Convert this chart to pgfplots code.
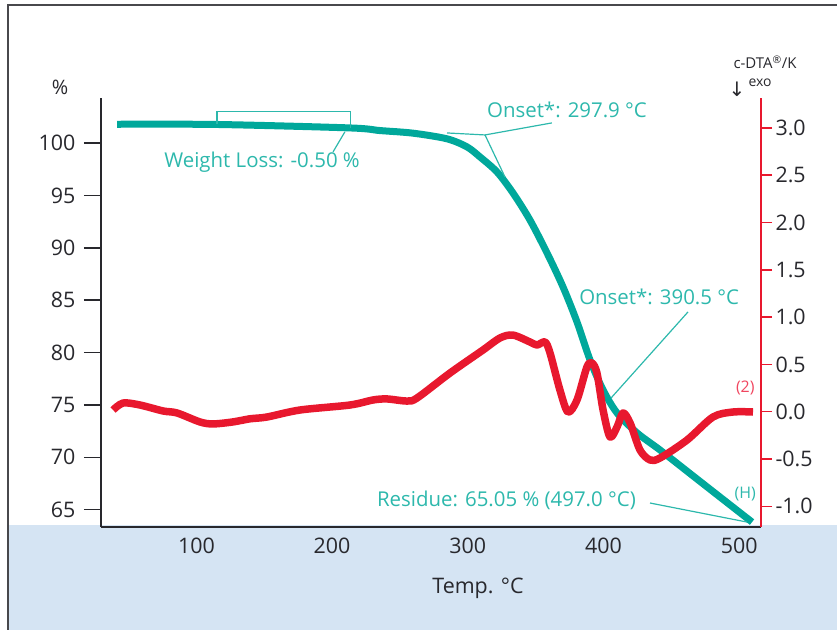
\documentclass[border=0pt]{standalone}
\usepackage{pgfplots}
\pgfplotsset{compat=1.18}
\usepackage{fontspec}
\setmainfont{Open Sans}
\newfontfamily\dejavu{DejaVu Sans}
\definecolor{tg}{RGB}{0,168,155}
\definecolor{tgtext}{RGB}{45,184,172}
\definecolor{dta}{RGB}{232,24,46}
\definecolor{dtatext}{RGB}{240,70,95}
\definecolor{bgblue}{RGB}{213,228,243}
\definecolor{axisgray}{RGB}{40,40,45}
\begin{document}
\begin{tikzpicture}[x=1bp,y=1bp]
\useasboundingbox (0,0) rectangle (837,630);
\fill[bgblue] (8,0) rectangle (837,105);
\draw[axisgray!85, line width=1.5bp] (8,0) -- (8,625) -- (837,625);

\begin{axis}[
  at={(101bp,103bp)}, anchor=south west, scale only axis,
  width=660bp, height=429bp,
  xmin=29.7, xmax=516.1, ymin=63.34, ymax=104.31,
  axis x line*=bottom, axis y line*=left,
  axis line style={axisgray, line width=1.5bp},
  xtick={100,200,300,400,500}, ytick={65,70,75,80,85,90,95,100},
  tick align=outside, major tick length=17bp,
  xtick style={draw=none},
  ytick style={axisgray, line width=1.5bp},
  tick label style={font=\fontsize{21.5}{24}\selectfont, text=axisgray},
  xticklabel style={yshift=10bp},
  yticklabel style={xshift=-5bp},
  /pgf/number format/assume math mode=true,
  clip=false,
]
\addplot[tg, line width=7bp, smooth] coordinates {
(41.5,101.80) (115.2,101.78) (213.1,101.45) (235.2,101.20) (259.6,100.95)
(284.7,100.41) (299.4,99.64) (309.0,98.68) (321.5,97.25) (333.3,95.24)
(345.8,92.66) (358.4,89.51) (370.2,86.26) (380.5,82.92) (390.1,79.29)
(399.7,76.43) (410.0,74.23) (424.8,72.32) (441.7,70.69) (466.0,68.22)
(485.9,66.20) (509.5,63.81)
};
% weight loss bracket
\draw[tgtext, line width=1.2bp] (axis cs:115.2,101.85) -- (axis cs:115.2,103.01) -- (axis cs:213.7,103.01) -- (axis cs:213.7,101.45);
\draw[tgtext, line width=1.2bp] (axis cs:209.4,101.07) -- (axis cs:200.7,99.16);
\node[tgtext, font=\fontsize{20.5}{24}\selectfont] at (axis cs:148.4,98.2) {Weight Loss: -0.50 \%};
% onset 1
\draw[tgtext, line width=1.2bp] (axis cs:284.7,100.97) -- (axis cs:312.7,100.78) -- (axis cs:327.4,96.77);
\draw[tgtext, line width=1.2bp] (axis cs:312.7,100.78) -- (axis cs:362.0,101.93);
\node[tgtext, font=\fontsize{20.5}{24}\selectfont] at (axis cs:373.1,103.16) {Onset*: 297.9 °C};
% onset 2
\draw[tgtext, line width=1.2bp] (axis cs:462.3,83.88) -- (axis cs:405.6,75.66);
\node[tgtext, font=\fontsize{20.5}{24}\selectfont] at (axis cs:441.0,85.3) {Onset*: 390.5 °C};
% residue
\draw[tgtext, line width=1.2bp] (axis cs:434.3,65.63) -- (axis cs:505.8,63.81);
\node[tgtext, font=\fontsize{20.5}{24}\selectfont] at (axis cs:328.5,65.92) {Residue: 65.05 \% (497.0 °C)};
\node[tgtext, font=\fontsize{16}{19}\selectfont] at (axis cs:504.5,66.5) {(H)};
\node[dtatext, font=\fontsize{16}{19}\selectfont] at (axis cs:504.5,76.62) {(2)};
\end{axis}

\begin{axis}[
  at={(101bp,103bp)}, anchor=south west, scale only axis,
  width=660bp, height=429bp,
  xmin=29.7, xmax=516.1, ymin=-1.218, ymax=3.315,
  axis x line=none, axis y line*=right,
  axis line style={dta, line width=1.5bp},
  ytick={-1,-0.5,0,0.5,1,1.5,2,2.5,3},
  tick align=outside, major tick length=11bp,
  ytick style={dta, line width=1.5bp},
  tick label style={font=\fontsize{21.5}{24}\selectfont, text=axisgray},
  yticklabel style={/pgf/number format/.cd, fixed, fixed zerofill, precision=1},
  /pgf/number format/assume math mode=true,
  clip=false,
]
\addplot[dta, line width=7.5bp, smooth, line join=round] coordinates {
(38.6,0.018) (46.0,0.092) (58.4,0.071) (75.4,0.008) (85.7,-0.013)
(102.6,-0.108) (112.2,-0.129) (126.9,-0.108) (139.4,-0.075) (152.0,-0.056)
(176.3,0.018) (213.2,0.071) (230.1,0.124) (240.4,0.135) (255.2,0.113)
(262.6,0.145) (286.9,0.409) (311.2,0.652) (323.7,0.779) (333.3,0.810)
(345.8,0.737) (351.0,0.705) (356.9,0.737) (360.6,0.621) (367.9,0.230)
(373.8,-0.003) (380.5,0.124) (387.8,0.473) (391.5,0.515) (395.2,0.409)
(399.7,0.018) (404.8,-0.267) (410.0,-0.161) (414.4,-0.013) (419.6,-0.118)
(426.9,-0.404) (434.3,-0.510) (441.7,-0.489) (461.6,-0.299) (480.7,-0.056)
(495.5,-0.003) (510.2,-0.003)
};
\end{axis}

\node[text=axisgray, font=\fontsize{20}{24}\selectfont] at (60,543) {\%};
\node[text=axisgray, font=\fontsize{15}{18}\selectfont] at (765,568) {c-DTA\textsuperscript{®}/K};
\node[text=axisgray, font=\fontsize{20}{24}\dejavu] at (737,541) {↓};
\node[text=axisgray, font=\fontsize{14}{17}\selectfont] at (760,547) {exo};
\node[text=axisgray, font=\fontsize{21.5}{24}\selectfont] at (478,42) {Temp. °C};
\end{tikzpicture}
\end{document}
